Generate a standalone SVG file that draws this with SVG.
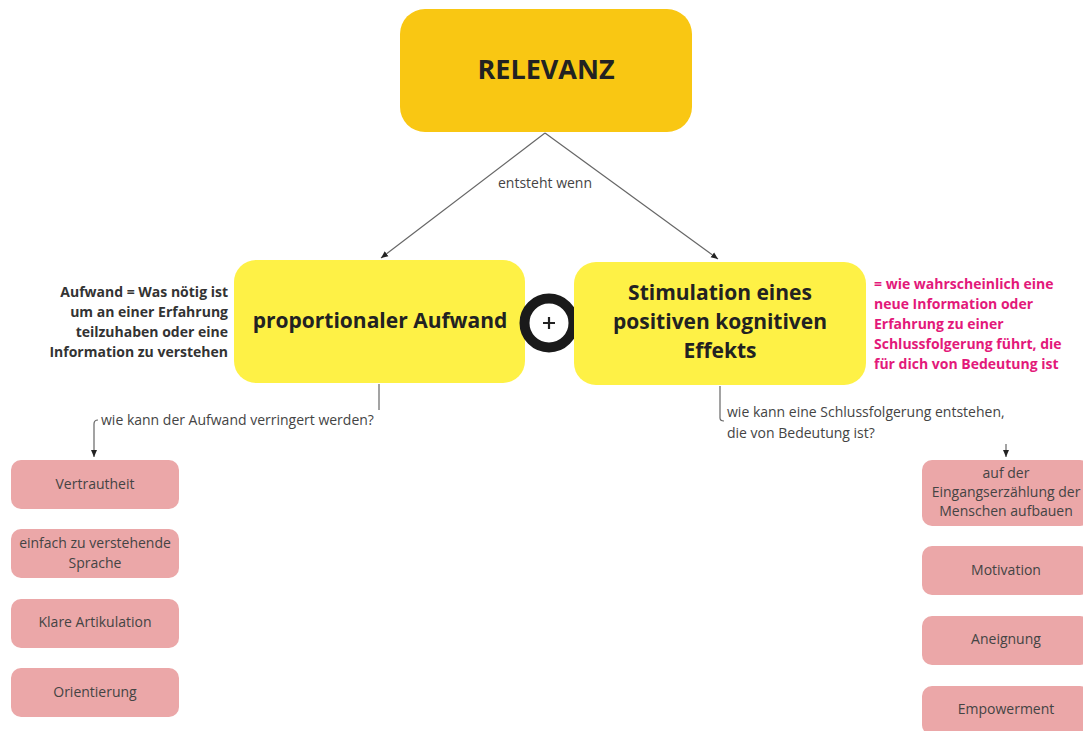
<svg xmlns="http://www.w3.org/2000/svg" width="1083" height="731" viewBox="0 0 1083 731">
<style>
text{font-family:"Open Sans","Noto Sans","Liberation Sans",sans-serif;}
.main{font-weight:700;fill:#222;text-anchor:middle;}
.leaf rect{fill:#EBA7A8;}
.leaf text{font-size:14px;fill:#444;text-anchor:middle;}
.lbl{font-size:14px;fill:#444;}
.note{font-size:14px;font-weight:700;}
.conn{stroke:#666;stroke-width:1.2;fill:none;}
</style>
<defs>
<marker id="ah" markerWidth="8" markerHeight="8" refX="7" refY="4" orient="auto" markerUnits="userSpaceOnUse">
<path d="M0,1 L7,4 L0,7 Z" fill="#222"/>
</marker>
</defs>
<rect width="1083" height="731" fill="#fff"/>
<g id="connectors">
<line class="conn" x1="545" y1="133" x2="381" y2="258" marker-end="url(#ah)"/>
<line class="conn" x1="545" y1="133" x2="718" y2="259" marker-end="url(#ah)"/>
<path class="conn" d="M379,384 V410"/>
<path class="conn" d="M98,420 Q94,420 94,424 V457" marker-end="url(#ah)"/>
<path class="conn" d="M720,386 V418 Q720,421 724,421"/>
<path class="conn" d="M1006,444 V457" marker-end="url(#ah)"/>
<text class="lbl" x="545" y="188" text-anchor="middle">entsteht wenn</text>
<text class="lbl" x="101" y="425">wie kann der Aufwand verringert werden?</text>
<text class="lbl" x="727" y="417">wie kann eine Schlussfolgerung entstehen,</text>
<text class="lbl" x="727" y="438">die von Bedeutung ist?</text>
</g>
<g id="relevanz">
<rect x="400" y="9" width="292" height="123" rx="25" fill="#F9C713"/>
<text class="main" x="546" y="79" font-size="27">RELEVANZ</text>
</g>
<g id="aufwand">
<rect x="234" y="260" width="291" height="123" rx="22" fill="#FEF146"/>
<text class="main" x="380" y="328" font-size="21">proportionaler Aufwand</text>
</g>
<g id="plus">
<circle cx="549" cy="323" r="24.5" fill="#fff" stroke="#1a1a1a" stroke-width="10"/>
<path d="M543,323 H555 M549,317 V329" stroke="#222" stroke-width="2.2" fill="none"/>
</g>
<g id="stimulation">
<rect x="574" y="262" width="292" height="123" rx="22" fill="#FEF146"/>
<text class="main" font-size="21"><tspan x="720" y="300">Stimulation eines</tspan><tspan x="720" y="329">positiven kognitiven</tspan><tspan x="720" y="358">Effekts</tspan></text>
</g>
<g id="note-aufwand">
<text class="note" fill="#333" text-anchor="end"><tspan x="228" y="297">Aufwand = Was nötig ist</tspan><tspan x="228" y="317">um an einer Erfahrung</tspan><tspan x="228" y="337">teilzuhaben oder eine</tspan><tspan x="228" y="357">Information zu verstehen</tspan></text>
</g>
<g id="note-stimulation">
<text class="note" fill="#E3197A"><tspan x="874" y="289">= wie wahrscheinlich eine</tspan><tspan x="874" y="309">neue Information oder</tspan><tspan x="874" y="329">Erfahrung zu einer</tspan><tspan x="874" y="349">Schlussfolgerung führt, die</tspan><tspan x="874" y="369">für dich von Bedeutung ist</tspan></text>
</g>
<g id="vertrautheit" class="leaf"><rect x="11" y="460" width="168" height="49" rx="10"/><text x="95" y="489">Vertrautheit</text></g>
<g id="sprache" class="leaf"><rect x="11" y="529" width="168" height="49" rx="10"/><text><tspan x="95" y="548">einfach zu verstehende</tspan><tspan x="95" y="568">Sprache</tspan></text></g>
<g id="artikulation" class="leaf"><rect x="11" y="599" width="168" height="49" rx="10"/><text x="95" y="627">Klare Artikulation</text></g>
<g id="orientierung" class="leaf"><rect x="11" y="668" width="168" height="49" rx="10"/><text x="95" y="697">Orientierung</text></g>
<g id="eingang" class="leaf"><rect x="922" y="460" width="168" height="66" rx="10"/><text><tspan x="1006" y="478">auf der</tspan><tspan x="1006" y="497">Eingangserzählung der</tspan><tspan x="1006" y="516">Menschen aufbauen</tspan></text></g>
<g id="motivation" class="leaf"><rect x="922" y="546" width="168" height="49" rx="10"/><text x="1006" y="575">Motivation</text></g>
<g id="aneignung" class="leaf"><rect x="922" y="616" width="168" height="49" rx="10"/><text x="1006" y="644">Aneignung</text></g>
<g id="empowerment" class="leaf"><rect x="922" y="686" width="168" height="49" rx="10"/><text x="1006" y="714">Empowerment</text></g>
</svg>
